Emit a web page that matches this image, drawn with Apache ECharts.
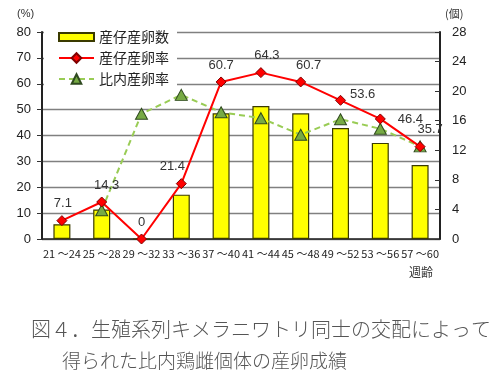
<!DOCTYPE html>
<html><head><meta charset="utf-8">
<script src="https://cdn.jsdelivr.net/npm/echarts@6/dist/echarts.min.js"></script>
<style>html,body{margin:0;padding:0;background:#fff;}#c{width:495px;height:382px;}</style>
</head><body><div id="c"></div>
<script>
const categories = ['21 ～24','25 ～28','29 ～32','33 ～36','37 ～40','41 ～44','45 ～48','49 ～52','53 ～56','57 ～60'];
const eggCount = [2, 4, 0, 6, 17, 18, 17, 15, 13, 10];
const layRate = [7.1, 14.3, 0, 21.4, 60.7, 64.3, 60.7, 53.6, 46.4, 35.7];
const hinaiRate = [null, 11.1, 48.4, 55.7, 49.0, 46.7, 40.3, 46.3, 42.6, 35.8];
const leftTicks = [0, 80, 10];
const rightTicks = [0, 28, 4];
const seriesNames = ['産仔産卵数', '産仔産卵率', '比内産卵率'];
const captionLines = ['図４．生殖系列キメラニワトリ同士の交配によって', '得られた比内鶏雌個体の産卵成績'];

// label placement (style only)
const labelStyle = [
  {position:'top', offset:[1,0]},
  {position:'top', offset:[5,0]},
  {position:'top', offset:[0,0]},
  {position:'top', offset:[-9,0]},
  {position:'top', offset:[0,0]},
  {position:'top', offset:[6,0]},
  {position:'top', offset:[8,0]},
  {position:'right', offset:[0,-6], distance:4},
  {position:'right', offset:[0,0], distance:12},
  {position:'top', offset:[10,0]}
];

const chart = echarts.init(document.getElementById('c'), null, {renderer:'canvas'});
const font = '"Liberation Sans", Arial, "Noto Sans CJK JP", sans-serif';
const jp = '"Noto Sans CJK JP", sans-serif';

chart.setOption({
  backgroundColor:'#ffffff',
  animation:false,
  textStyle:{fontFamily:font},
  grid:{left:42, right:55, top:32, bottom:143, containLabel:false},
  legend:{
    orient:'vertical', left:44, top:24,
    padding:[6,8,6,14], backgroundColor:'#ffffff',
    itemWidth:35, itemHeight:12, itemGap:7,
    symbolKeepAspect:true,
    textStyle:{fontFamily:jp, fontSize:14, color:'#222'},
    data:[
      {name:seriesNames[0], icon:'path://M0,0H35V8H0Z'},
      {name:seriesNames[1]},
      {name:seriesNames[2]}
    ]
  },
  xAxis:{
    type:'category', data:categories, boundaryGap:true,
    axisLine:{lineStyle:{color:'#222', width:1.5}},
    axisTick:{inside:true, length:5, lineStyle:{color:'#333'}},
    axisLabel:{interval:0, fontSize:11, color:'#222', margin:9, fontFamily:jp}
  },
  yAxis:[{
    type:'value', min:leftTicks[0], max:leftTicks[1], interval:leftTicks[2],
    axisLine:{show:true, lineStyle:{color:'#222', width:2}},
    axisTick:{show:true, length:5, lineStyle:{color:'#333'}},
    axisLabel:{fontSize:13, color:'#222', margin:11},
    splitLine:{lineStyle:{color:'#808080', width:1.3}}
  },{
    type:'value', min:rightTicks[0], max:rightTicks[1], interval:rightTicks[2],
    position:'right',
    axisLine:{show:true, lineStyle:{color:'#222', width:2}},
    axisTick:{show:true, inside:true, length:5, lineStyle:{color:'#333'}},
    axisLabel:{fontSize:13, color:'#222', margin:12},
    splitLine:{show:false}
  }],
  graphic:[
    {type:'text', left:17, top:8, style:{text:'(%)', font:'11px '+font, fill:'#333'}},
    {type:'text', left:445, top:8, style:{text:'(個)', font:'11px '+jp, fill:'#333'}},
    {type:'text', left:409, top:266, style:{text:'週齢', font:'12px '+jp, fill:'#333'}},
    {type:'text', left:31, top:319, style:{text:captionLines[0], font:'300 20px '+jp, fill:'#555'}},
    {type:'text', left:62, top:351, style:{text:captionLines[1], font:'300 19px '+jp, fill:'#555'}}
  ],
  series:[
    {
      name:seriesNames[0], type:'bar', yAxisIndex:1, data:eggCount, barWidth:17,
      itemStyle:{color:'#ffff00', borderColor:'#3a3a00', borderWidth:1.2},
      z:2
    },
    {
      name:seriesNames[1], type:'line', yAxisIndex:0,
      data:layRate.map((v,i)=>({value:v, label:Object.assign({show:true}, labelStyle[i])})),
      symbol:'diamond', symbolSize:10,
      lineStyle:{color:'#ff0000', width:2},
      itemStyle:{color:'#ff0000', borderColor:'#800000', borderWidth:1},
      label:{show:true, fontSize:13, color:'#333', distance:5},
      z:4
    },
    {
      name:seriesNames[2], type:'line', yAxisIndex:0, data:hinaiRate, connectNulls:false,
      symbol:'triangle', symbolSize:[12,11],
      lineStyle:{color:'#99cc55', width:2, type:[6,4]},
      itemStyle:{color:'#77aa44', borderColor:'#2f4a1f', borderWidth:1},
      z:3
    }
  ]
});
</script></body></html>
